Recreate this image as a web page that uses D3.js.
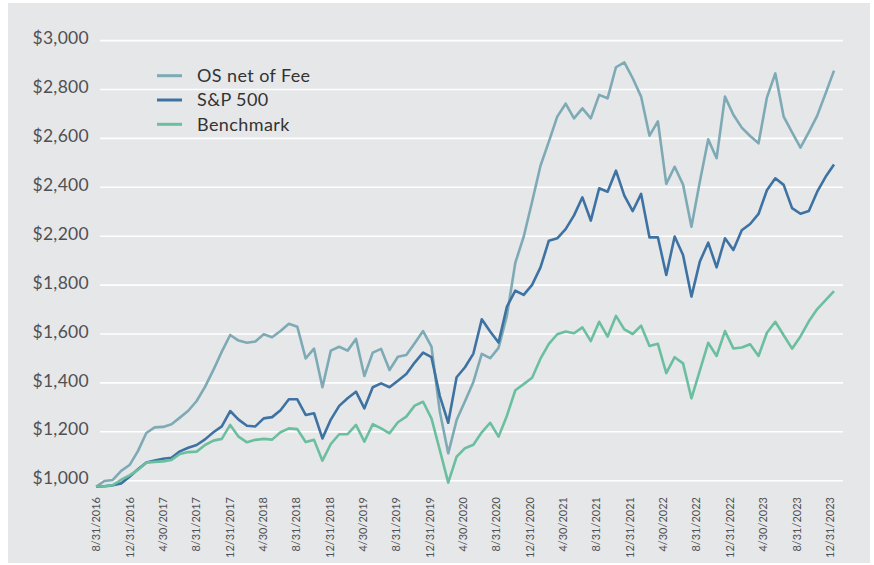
<!DOCTYPE html>
<html>
<head>
    <meta charset="utf-8">
    <title>Growth of $1,000</title>
    <script src="https://d3js.org/d3.v7.min.js"></script>
    <style>
        body, html {
            margin: 0;
            padding: 0;
            background: #ffffff;
        }
        svg {
            display: block;
        }
        text {
            font-family: Lato, "Open Sans", sans-serif;
        }
    </style>
</head>
<body>
    <svg width="874" height="565"></svg>
    <script>
        // monthly values, 8/31/2016 .. 12/31/2023
        const osNetOfFee = [
            975, 999, 1003, 1040, 1064, 1121, 1195, 1218, 1220, 1231, 1258, 1286, 1326, 1384, 1453, 1528,
            1596, 1573, 1564, 1569, 1599, 1587, 1612, 1642, 1630, 1500, 1540, 1382, 1532, 1548, 1532, 1580,
            1428, 1524, 1539, 1453, 1507, 1514, 1562, 1612, 1548, 1282, 1112, 1248, 1325, 1404, 1519, 1501,
            1543, 1675, 1983, 2196, 2341, 2488, 2587, 2689, 2742, 2682, 2723, 2682, 2778, 2764, 2891, 2911,
            2846, 2771, 2611, 2670, 2414, 2484, 2411, 2239, 2423, 2596, 2519, 2771, 2697, 2644, 2610, 2580,
            2767, 2866, 2689, 2625, 2562, 2626, 2693, 2784, 2877
        ];
        const sp500 = [
            975, 977, 981, 989, 1016, 1047, 1074, 1083, 1090, 1094, 1120, 1135, 1146, 1169, 1198, 1222,
            1285, 1250, 1225, 1222, 1255, 1260, 1288, 1333, 1333, 1269, 1276, 1173, 1250, 1306, 1337, 1364,
            1296, 1382, 1398, 1382, 1409, 1436, 1483, 1524, 1505, 1346, 1237, 1423, 1464, 1520, 1660, 1610,
            1565, 1712, 1777, 1760, 1802, 1945, 2163, 2183, 2229, 2285, 2359, 2264, 2396, 2382, 2468, 2366,
            2303, 2373, 2190, 2191, 1883, 2197, 2046, 1753, 1992, 2147, 1945, 2183, 2087, 2224, 2250, 2291,
            2388, 2437, 2410, 2315, 2292, 2303, 2382, 2443, 2493
        ];
        const benchmark = [
            976, 977, 982, 1004, 1022, 1044, 1074, 1077, 1079, 1085, 1109, 1117, 1119, 1146, 1164, 1171,
            1228, 1180, 1157, 1167, 1171, 1168, 1198, 1214, 1211, 1158, 1167, 1082, 1150, 1190, 1190, 1228,
            1160, 1231, 1214, 1194, 1239, 1262, 1307, 1323, 1255, 1125, 992, 1098, 1133, 1147, 1198, 1237,
            1180, 1266, 1370, 1395, 1421, 1499, 1560, 1599, 1610, 1603, 1627, 1571, 1650, 1589, 1674, 1619,
            1600, 1634, 1551, 1560, 1440, 1505, 1480, 1337, 1450, 1564, 1510, 1612, 1541, 1545, 1558, 1510,
            1605, 1650, 1595, 1540, 1590, 1652, 1702, 1739, 1775
        ];

        const yTicks = [1000, 1200, 1400, 1600, 1800, 2200, 2400, 2600, 2800, 3000];
        const xTickLabels = [
            "8/31/2016", "12/31/2016", "4/30/2017", "8/31/2017", "12/31/2017", "4/30/2018",
            "8/31/2018", "12/31/2018", "4/30/2019", "8/31/2019", "12/31/2019", "4/30/2020",
            "8/31/2020", "12/31/2020", "4/30/2021", "8/31/2021", "12/31/2021", "4/30/2022",
            "8/31/2022", "12/31/2022", "4/30/2023", "8/31/2023", "12/31/2023"
        ];
        const monthsPerTick = 4;

        const seriesNames = ["OS net of Fee", "S&P 500", "Benchmark"];
        const seriesColors = ["#7eaab5", "#3e72a2", "#6bbf9f"];
        const seriesValues = [osNetOfFee, sp500, benchmark];

        const svg = d3.select("svg");

        // grey panel
        svg.append("rect")
            .attr("x", 8).attr("y", 3)
            .attr("width", 862).attr("height", 560)
            .attr("fill", "#e6e7e9");

        const n = osNetOfFee.length;
        const x = d3.scaleLinear().domain([0, n - 1]).range([96, 834]);
        const xLabel = d3.scaleLinear().domain([0, n - 1]).range([96.5, 830]);

        // evenly spaced gridlines, one per tick label
        const yBottom = 480.7, yStep = 48.9;
        const y = d3.scaleLinear()
            .domain(yTicks)
            .range(yTicks.map((d, i) => yBottom - i * yStep));

        // gridlines
        svg.append("g")
            .selectAll("line")
            .data(yTicks)
            .enter().append("line")
            .attr("x1", 100)
            .attr("x2", 843)
            .attr("y1", d => y(d))
            .attr("y2", d => y(d))
            .attr("stroke", "#ffffff")
            .attr("stroke-width", 1.6);

        // y labels
        svg.append("g")
            .selectAll("text")
            .data(yTicks)
            .enter().append("text")
            .attr("x", 89)
            .attr("y", d => y(d) - 2.5)
            .attr("dy", "0.35em")
            .attr("text-anchor", "end")
            .attr("font-size", "17.5px")
            .attr("letter-spacing", "0.3px")
            .attr("fill", "#505052")
            .text(d => "$" + d3.format(",")(d));

        // x labels, rotated
        svg.append("g")
            .selectAll("text")
            .data(xTickLabels)
            .enter().append("text")
            .attr("transform", (d, i) => `translate(${xLabel(i * monthsPerTick)},497) rotate(-90)`)
            .attr("dy", "0.35em")
            .attr("text-anchor", "end")
            .attr("font-size", "11px")
            .attr("fill", "#505052")
            .text(d => d);

        const line = d3.line()
            .x((d, i) => x(i))
            .y(d => y(d));

        // draw order: OS, S&P, Benchmark
        svg.append("g")
            .selectAll("path")
            .data(seriesValues)
            .enter().append("path")
            .attr("d", d => line(d))
            .attr("fill", "none")
            .attr("stroke", (d, i) => seriesColors[i])
            .attr("stroke-width", 2.6)
            .attr("stroke-linejoin", "round");

        // legend
        const legend = svg.append("g")
            .selectAll("g")
            .data(seriesNames)
            .enter().append("g")
            .attr("transform", (d, i) => `translate(157,${75.7 + i * 24.3})`);

        legend.append("line")
            .attr("x1", 0).attr("x2", 25)
            .attr("stroke", (d, i) => seriesColors[i])
            .attr("stroke-width", 3);

        legend.append("text")
            .attr("x", 40)
            .attr("dy", "0.35em")
            .attr("font-size", "18px")
            .attr("letter-spacing", "0.4px")
            .attr("fill", "#333333")
            .text(d => d);
    </script>
</body>
</html>
